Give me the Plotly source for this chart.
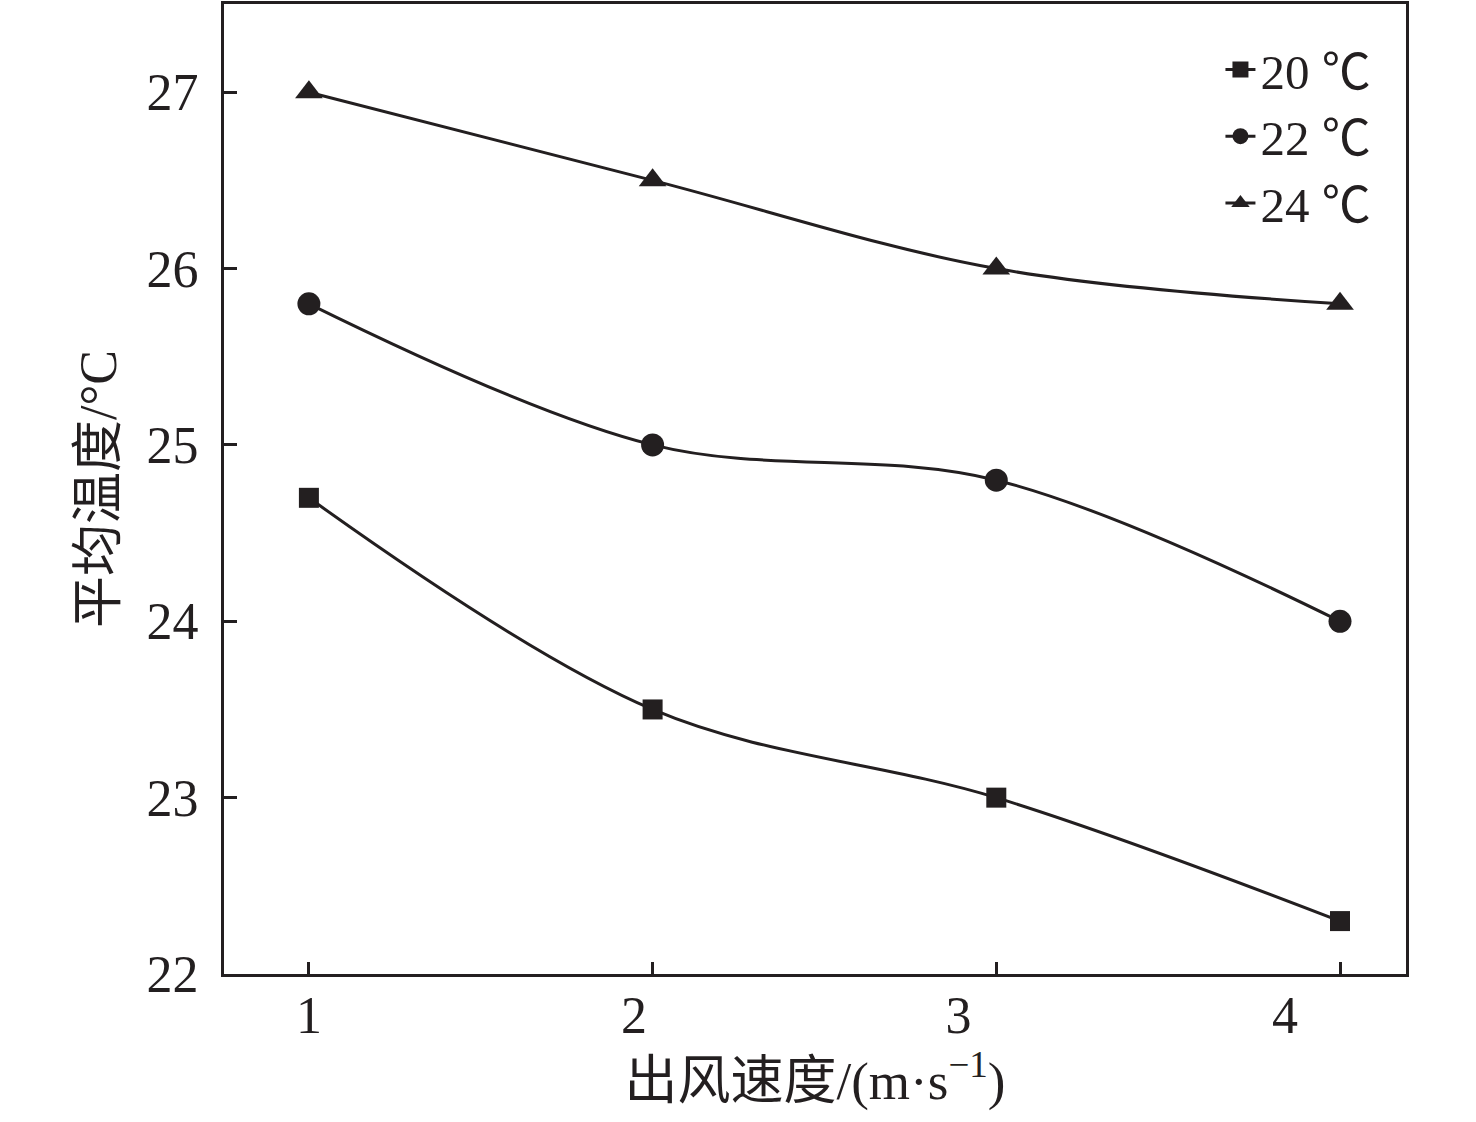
import plotly.graph_objects as go

# ---- data ----
speed = [1, 2, 3, 4]
t20 = [24.7, 23.5, 23.0, 22.3]
t22 = [25.8, 25.0, 24.8, 24.0]
t24 = [27.0, 26.5, 26.0, 25.8]
series_names = ["20 ℃", "22 ℃", "24 ℃"]
symbols = ["square", "circle", "triangle-up"]
tick_labels = ["1", "2", "3", "4"]
label_positions = [1, 1.946, 2.89, 3.84]
y_ticks = [22, 23, 24, 25, 26, 27]

INK = "#231f20"
FONT = "Liberation Serif, Times New Roman, Noto Sans CJK SC"

fig = go.Figure()
for name, vals, sym, sz in zip(series_names, [t20, t22, t24], symbols, [20, 23, 24]):
    fig.add_trace(go.Scatter(
        x=speed, y=vals, name=name, mode="lines+markers",
        line=dict(color=INK, width=3, shape="spline", smoothing=1),
        marker=dict(symbol=sym, size=sz, color=INK),
    ))

# invisible trace to carry the shifted tick labels axis
fig.add_trace(go.Scatter(x=[1], y=[22], xaxis="x2", mode="markers",
                         marker=dict(opacity=0), showlegend=False, hoverinfo="skip"))

fig.update_layout(
    width=1476, height=1122,
    margin=dict(l=224, r=70, t=1, b=148),
    paper_bgcolor="white", plot_bgcolor="white",
    font=dict(family=FONT, color=INK, size=52),
    showlegend=True,
    legend=dict(
        x=0.975, y=0.972, xanchor="right", yanchor="top",
        font=dict(size=49, family=FONT, color=INK),
        bgcolor="rgba(0,0,0,0)", borderwidth=0,
        tracegroupgap=0,
    ),
    xaxis=dict(
        range=[0.753, 4.192], tickvals=speed, showticklabels=False,
        ticks="inside", ticklen=12, tickwidth=3, tickcolor=INK,
        showline=True, linewidth=3, linecolor=INK, mirror=True,
        showgrid=False, zeroline=False,
    ),
    xaxis2=dict(
        overlaying="x", matches="x", anchor="y", side="bottom",
        range=[0.753, 4.192],
        tickvals=label_positions, ticktext=tick_labels,
        ticks="", showline=False, showgrid=False, zeroline=False,
        tickfont=dict(size=52, family=FONT, color=INK),
        ticklabelstandoff=6,
        title=dict(text="出风速度/(m·s<sup>−1</sup>)", font=dict(size=53, family=FONT, color=INK), standoff=16),
    ),
    yaxis=dict(
        range=[22, 27.5], tickvals=y_ticks,
        ticks="inside", ticklen=13, tickwidth=3, tickcolor=INK,
        showline=True, linewidth=3, linecolor=INK, mirror=True,
        showgrid=False, zeroline=False,
        tickfont=dict(size=52, family=FONT, color=INK),
        ticklabelstandoff=12,
        title=dict(text="平均温度/°C", font=dict(size=52, family=FONT, color=INK), standoff=14),
    ),
)

fig.write_html("out.html", config={"displayModeBar": False},
               post_script="document.body.style.margin='0';document.body.style.padding='0';")
